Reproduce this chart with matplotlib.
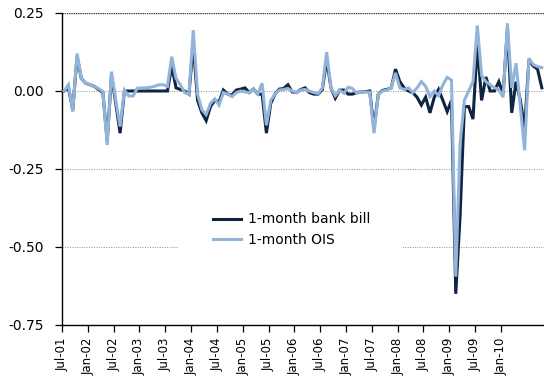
import numpy as np
import matplotlib
matplotlib.use("Agg")
import matplotlib.pyplot as plt
from matplotlib.patches import Rectangle

# Monthly spread changes, July 2001 onwards (percentage points)
bank_bill = [
    0.0, 0.01, -0.06, 0.11, 0.04, 0.025, 0.02, 0.015, 0.005, -0.005,
    -0.16, 0.05, -0.04, -0.135, 0.0, 0.0, 0.0, 0.0, 0.0, 0.0,
    0.0, 0.0, 0.0, 0.0, 0.0, 0.08, 0.01, 0.005, 0.0, -0.01,
    0.15, -0.03, -0.07, -0.095, -0.05, -0.03, -0.035, 0.003, -0.01, -0.013,
    0.003, 0.006, 0.01, -0.005, 0.006, -0.01, -0.01, -0.135, -0.04, -0.01,
    0.006, 0.008, 0.02, -0.003, -0.005, 0.005, 0.01, -0.005, -0.01, -0.01,
    0.005, 0.10, 0.01, -0.023, 0.003, 0.003, -0.01, -0.01, -0.005, -0.003,
    -0.002, 0.0, -0.12, -0.01, 0.002, 0.005, 0.01, 0.07, 0.03, 0.01,
    0.0, -0.005, -0.02, -0.045, -0.02, -0.07, -0.02, 0.005, -0.03, -0.066,
    -0.03, -0.65, -0.40, -0.05, -0.05, -0.09, 0.15, -0.03, 0.045, 0.0,
    0.0, 0.03, -0.01, 0.20, -0.07, 0.03, -0.03, -0.12, 0.10, 0.08,
    0.07, 0.01,
]
ois = [
    0.0, 0.02, -0.066, 0.12, 0.04, 0.025, 0.02, 0.015, 0.008, -0.002,
    -0.173, 0.062, -0.03, -0.114, 0.003, -0.016, -0.016, 0.009, 0.01, 0.01,
    0.012, 0.015, 0.02, 0.02, 0.015, 0.11, 0.04, 0.02, -0.005, -0.01,
    0.195, -0.01, -0.06, -0.075, -0.04, -0.025, -0.045, -0.005, -0.01, -0.018,
    -0.005, 0.0, -0.003, -0.005, 0.005, -0.01, 0.025, -0.11, -0.03, -0.01,
    0.003, 0.005, 0.008, 0.0, -0.005, 0.003, 0.005, 0.0, -0.005, -0.008,
    0.01, 0.125, 0.01, -0.015, 0.003, -0.007, 0.012, 0.008, -0.007, -0.003,
    -0.003, -0.004, -0.135, -0.01, 0.0, 0.003, 0.01, 0.058, 0.01, 0.005,
    0.01, -0.005, 0.01, 0.03, 0.015, -0.018, 0.0, -0.015, 0.02, 0.044,
    0.035, -0.595, -0.17, -0.03, 0.0, 0.03, 0.21, 0.05, 0.03, 0.02,
    0.01, 0.005, -0.02, 0.217, 0.01, 0.089, -0.05, -0.19, 0.105, 0.085,
    0.078, 0.075,
]
tick_labels = ["Jul-01", "Jan-02", "Jul-02", "Jan-03", "Jul-03", "Jan-04",
               "Jul-04", "Jan-05", "Jul-05", "Jan-06", "Jul-06", "Jan-07",
               "Jul-07", "Jan-08", "Jul-08", "Jan-09", "Jul-09", "Jan-10"]
y_ticks = [0.25, 0.0, -0.25, -0.5, -0.75]

NAVY = "#0e2442"
LIGHT = "#93b4da"

plt.rcParams["font.family"] = ["DejaVu Sans"]

fig = plt.figure(figsize=(5.44, 3.92), dpi=100)
ax = fig.add_axes([62 / 544, 1 - 325 / 392, 482 / 544, 312 / 392])

months = np.arange(len(ois)) + 0.5
ax.plot(months, bank_bill, color=NAVY, lw=2.2, solid_joinstyle="miter",
        label="1-month bank bill", zorder=3)
ax.plot(months, ois, color=LIGHT, lw=2.2, solid_joinstyle="miter",
        label="1-month OIS", zorder=4)

ax.set_xlim(0, 112)
ax.set_ylim(-0.75, 0.25)

# dotted horizontal gridlines
for y in [0.0, -0.25, -0.5]:
    ax.axhline(y, color="#8c8c8c", lw=0.7, ls=(0, (1, 1.5)), zorder=1)
ax.axhline(0.25, color="#3a3a3a", lw=1.0, ls=(0, (1, 0.6)), zorder=2)

for s in ["top", "right"]:
    ax.spines[s].set_visible(False)
ax.spines["left"].set_linewidth(1.0)
ax.spines["bottom"].set_linewidth(1.0)

ax.set_yticks(y_ticks)
ax.set_yticklabels([f"{v:.2f}" for v in y_ticks], fontsize=10)
ax.set_xticks(np.arange(len(tick_labels)) * 6)
ax.set_xticklabels(tick_labels, rotation=90, fontsize=8.5)
ax.tick_params(axis="both", direction="out", length=5, width=0.9,
               colors="black")
ax.tick_params(axis="y", pad=8)
ax.tick_params(axis="x", pad=4)

# white panel behind the legend
ax.add_patch(Rectangle((0.241, 0.215), 0.464, 0.17, transform=ax.transAxes,
                       facecolor="white", edgecolor="none", zorder=2))
leg = ax.legend(loc="center left", bbox_to_anchor=(0.313, 0.306),
                frameon=False, fontsize=10, handlelength=2.0,
                handletextpad=0.5, labelspacing=0.45, borderpad=0,
                borderaxespad=0)
for line in leg.get_lines():
    line.set_linewidth(2.2)

fig.savefig("out.png", dpi=100)
